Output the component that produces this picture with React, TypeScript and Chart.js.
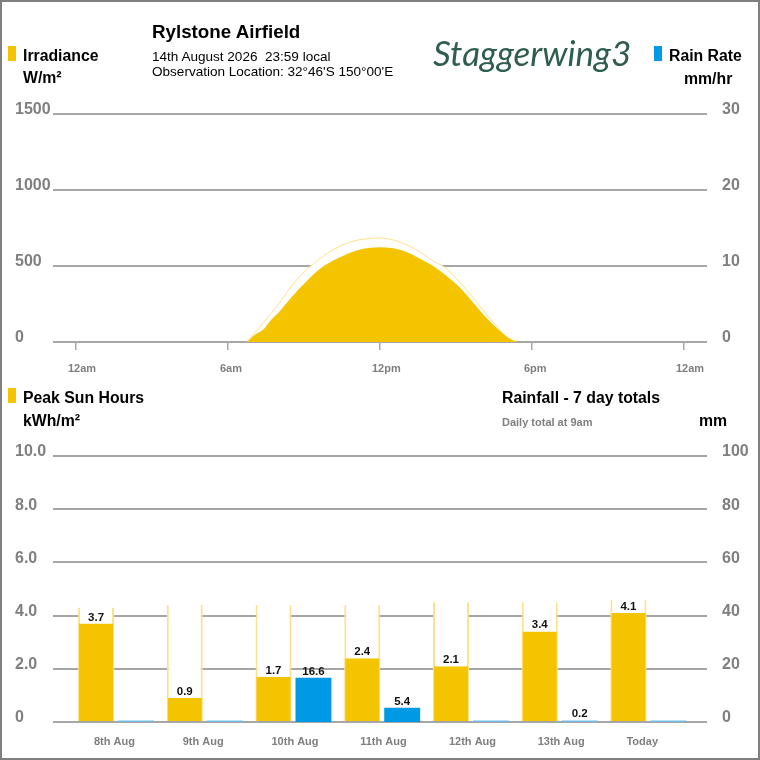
import React, { useEffect, useRef } from "react";
import { Chart, registerables } from "chart.js";

Chart.register(...registerables);

const SANS = "'Liberation Sans', Arial, sans-serif";
const SUN = "#f5c400";
const RAIN = "#0099e6";
const RAIN_THIN = "#74bce6";
const PALE = "#ffe08a";
const GRID = "#a6a6a6";
const TICK_TEXT = "#7f7f7f";

const fillHours = [6.74, 7.07, 7.4, 7.72, 7.99, 8.38, 8.78, 9.17, 9.57, 9.96, 10.36, 10.75, 11.15, 11.54, 12, 12.53, 13.05, 13.58, 14.1, 14.63, 15.16, 15.68, 16.2, 16.74, 17.07, 17.39, 17.59];
const fillWatts = [0, 50, 83, 149, 193, 270, 346, 412, 474, 518, 553, 583, 605, 618, 623, 616, 592, 548, 500, 434, 357, 259, 160, 72, 28, 4, 0];
const skyHours = [6.74, 7.0, 7.46, 7.99, 8.51, 9.04, 9.5, 9.96, 10.49, 11.01, 11.54, 12, 12.53, 13.05, 13.58, 14.1, 14.57, 15.16, 15.68, 16.2, 16.6, 16.93, 17.2, 17.39];
const skyWatts = [0, 50, 138, 248, 368, 467, 533, 588, 636, 667, 680, 684, 671, 640, 592, 533, 489, 390, 292, 182, 105, 39, 7, 0];
const rainHours = [0, 24];
const rainRates = [0, 0];
const timeTicks = [0, 6, 12, 18, 24];
const timeLabels = ["12am", "6am", "12pm", "6pm", "12am"];
const irradianceTicks = [0, 500, 1000, 1500];
const rainRateTicks = [0, 10, 20, 30];

const days = ["8th Aug", "9th Aug", "10th Aug", "11th Aug", "12th Aug", "13th Aug", "Today"];
const dayIndex = [0, 1, 2, 3, 4, 5, 6];
const sunHours = [3.7, 0.9, 1.7, 2.4, 2.1, 3.4, 4.1];
const skyHoursMax = [4.3, 4.4, 4.4, 4.4, 4.5, 4.5, 4.6];
const rainfall = [0, 0, 16.6, 5.4, 0, 0.2, 0];
const sunTicks = [0, 2, 4, 6, 8, 10];
const sunTickLabels = ["0", "2.0", "4.0", "6.0", "8.0", "10.0"];
const rainfallTicks = [0, 20, 40, 60, 80, 100];

const setWidth = (w: number) => (s: any) => {
  s.width = w;
  s.paddingTop = 0;
  s.paddingBottom = 0;
};
const setHeight = (h: number) => (s: any) => {
  s.height = h;
  s.paddingLeft = 0;
  s.paddingRight = 0;
};
const fixTicks = (vals: number[]) => (s: any) => {
  s.ticks = vals.map((value) => ({ value }));
};

const valueLabels = {
  id: "valueLabels",
  afterDatasetsDraw(chart: any) {
    const ctx = chart.ctx;
    ctx.save();
    ctx.font = `bold 11.5px ${SANS}`;
    ctx.fillStyle = "#111111";
    ctx.textAlign = "center";
    ctx.textBaseline = "bottom";
    chart.data.datasets.forEach((ds: any, i: number) => {
      if (!ds.showValues) return;
      chart.getDatasetMeta(i).data.forEach((bar: any, j: number) => {
        if (ds.data[j].y > 0) ctx.fillText(ds.data[j].y.toFixed(1), bar.x, bar.y - 0.5);
      });
    });
    ctx.restore();
  },
};

function yScale(position: string, ticks: number[], max: number, label: (v: number) => string, grid: boolean, width: number) {
  return {
    position,
    min: 0,
    max,
    afterBuildTicks: fixTicks(ticks),
    afterFit: setWidth(width),
    border: { display: false },
    grid: grid ? { color: GRID, lineWidth: 2, drawTicks: false } : { display: false, drawTicks: false },
    ticks: {
      crossAlign: position === "left" ? "far" : "near",
      padding: position === "left" ? 0 : 15,
      labelOffset: -4,
      color: TICK_TEXT,
      font: { family: SANS, size: 16, weight: "bold" },
      callback: (v: any) => label(Number(v)),
    },
  };
}

const Text = ({ x, y, size, bold, color, children }: any) => (
  <div
    style={{
      position: "absolute",
      left: x,
      top: y,
      transform: "translateY(-50%)",
      fontFamily: SANS,
      fontSize: size,
      fontWeight: bold ? 700 : 400,
      color: color || "#000",
      whiteSpace: "nowrap",
      lineHeight: 1,
    }}
  >
    {children}
  </div>
);

const Swatch = ({ x, y, color }: any) => (
  <div style={{ position: "absolute", left: x, top: y, width: 8, height: 15, background: color }} />
);

export default function App() {
  const topRef = useRef<HTMLCanvasElement>(null);
  const bottomRef = useRef<HTMLCanvasElement>(null);

  useEffect(() => {
    document.body.style.margin = "0";
    const top = new Chart(topRef.current!, {
      type: "line",
      data: {
        datasets: [
          {
            label: "Irradiance",
            data: fillHours.map((x, i) => ({ x, y: fillWatts[i] })),
            borderColor: SUN,
            borderWidth: 0,
            backgroundColor: SUN,
            fill: "origin",
            pointRadius: 0,
            cubicInterpolationMode: "monotone",
            order: 1,
          },
          {
            label: "Clear sky",
            data: skyHours.map((x, i) => ({ x, y: skyWatts[i] })),
            borderColor: PALE,
            borderWidth: 1,
            backgroundColor: "#ffffff",
            fill: "origin",
            pointRadius: 0,
            cubicInterpolationMode: "monotone",
            order: 2,
          },
          {
            label: "Rain Rate",
            data: rainHours.map((x, i) => ({ x, y: rainRates[i] })),
            yAxisID: "y1",
            borderColor: RAIN,
            borderWidth: 0,
            pointRadius: 0,
            order: 3,
          },
        ],
      },
      options: {
        animation: false,
        responsive: false,
        devicePixelRatio: 1,
        layout: { padding: { left: 15, top: 24, right: 0, bottom: 0 } },
        plugins: { legend: { display: false }, tooltip: { enabled: false } },
        scales: {
          x: {
            type: "linear",
            min: -0.908,
            max: 24.908,
            afterBuildTicks: fixTicks(timeTicks),
            afterFit: setHeight(38),
            border: { display: false },
            grid: { drawOnChartArea: false, color: GRID, lineWidth: 1.5, tickLength: 8 },
            ticks: {
              align: "start",
              labelOffset: -8,
              maxRotation: 0,
              padding: 12,
              autoSkip: false,
              color: TICK_TEXT,
              font: { family: SANS, size: 11, weight: "bold" },
              callback: (v: any) => timeLabels[timeTicks.indexOf(Number(v))],
            },
          },
          y: yScale("left", irradianceTicks, 1500, (v) => String(v), true, 38),
          y1: yScale("right", rainRateTicks, 30, (v) => String(v), false, 53),
        },
      } as any,
    });

    const bottom = new Chart(bottomRef.current!, {
      type: "bar",
      data: {
        datasets: [
          {
            label: "Peak Sun Hours",
            data: dayIndex.map((x, i) => ({ x, y: sunHours[i] })),
            backgroundColor: SUN,
            borderColor: PALE,
            borderWidth: { left: 1, right: 1, top: 0, bottom: 0 },
            borderSkipped: false,
            stack: "sun",
            order: 1,
            showValues: true,
          },
          {
            label: "Clear sky hours",
            data: dayIndex.map((x, i) => ({ x, y: skyHoursMax[i] })),
            backgroundColor: "#ffffff",
            borderColor: PALE,
            borderWidth: { left: 2, right: 2, top: 0, bottom: 0 },
            borderSkipped: false,
            stack: "sun",
            order: 2,
          },
          {
            label: "Rainfall",
            data: dayIndex.map((x, i) => ({ x, y: rainfall[i] })),
            yAxisID: "y1",
            backgroundColor: (c: any) => (rainfall[c.dataIndex] < 1 ? RAIN_THIN : RAIN),
            minBarLength: 1.5,
            stack: "rain",
            order: 1,
            showValues: true,
          },
        ],
      },
      options: {
        animation: false,
        responsive: false,
        devicePixelRatio: 1,
        categoryPercentage: 0.9,
        barPercentage: 0.9,
        layout: { padding: { left: 15, top: 26, right: 0, bottom: 0 } },
        plugins: { legend: { display: false }, tooltip: { enabled: false } },
        scales: {
          x: {
            type: "linear",
            stacked: true,
            offset: false,
            min: -0.71,
            max: 6.66,
            afterBuildTicks: fixTicks(dayIndex),
            afterFit: setHeight(38),
            border: { display: false },
            grid: { display: false, drawTicks: false, offset: false },
            ticks: {
              align: "start",
              labelOffset: -22,
              maxRotation: 0,
              padding: 13,
              autoSkip: false,
              color: TICK_TEXT,
              font: { family: SANS, size: 11, weight: "bold" },
              callback: (v: any) => days[Number(v)],
            },
          },
          y: { ...yScale("left", sunTicks, 10, (v) => sunTickLabels[sunTicks.indexOf(v)], true, 38), stacked: false },
          y1: { ...yScale("right", rainfallTicks, 100, (v) => String(v), false, 53), stacked: false },
        },
      } as any,
      plugins: [valueLabels],
    });

    return () => {
      top.destroy();
      bottom.destroy();
    };
  }, []);

  return (
    <div style={{ position: "relative", width: 760, height: 760, overflow: "hidden", background: "#fff" }}>
      <canvas ref={topRef} width={760} height={290} style={{ position: "absolute", left: 0, top: 90, width: 760, height: 290 }} />
      <canvas ref={bottomRef} width={760} height={330} style={{ position: "absolute", left: 0, top: 430, width: 760, height: 330 }} />
      <div style={{ position: "absolute", inset: 0, border: "2px solid #808080", boxSizing: "border-box", pointerEvents: "none" }} />

      <Swatch x={8} y={46} color={SUN} />
      <Text x={23} y={56} size={15.8} bold>Irradiance</Text>
      <Text x={23} y={78} size={15.8} bold>W/m²</Text>

      <Text x={152} y={32} size={18.75} bold>Rylstone Airfield</Text>
      <Text x={152} y={57} size={13.55}>14th August 2026&nbsp; 23:59 local</Text>
      <Text x={152} y={72} size={13.55}>Observation Location: 32°46'S 150°00'E</Text>

      <div style={{ position: "absolute", left: 433, top: 35, fontFamily: "Lato, sans-serif", fontStyle: "italic", fontWeight: 400, fontSize: 35, lineHeight: 1, color: "#2f5d50", whiteSpace: "nowrap" }}>Staggerwing3</div>

      <Swatch x={654} y={46} color={RAIN} />
      <Text x={669} y={56} size={15.8} bold>Rain Rate</Text>
      <Text x={684} y={79} size={15.8} bold>mm/hr</Text>

      <Swatch x={8} y={388} color={SUN} />
      <Text x={23} y={398} size={15.8} bold>Peak Sun Hours</Text>
      <Text x={23} y={421} size={15.8} bold>kWh/m²</Text>

      <Text x={502} y={398} size={15.8} bold>Rainfall - 7 day totals</Text>
      <Text x={502} y={422} size={11} bold color={TICK_TEXT}>Daily total at 9am</Text>
      <Text x={699} y={421} size={15.8} bold>mm</Text>
    </div>
  );
}
